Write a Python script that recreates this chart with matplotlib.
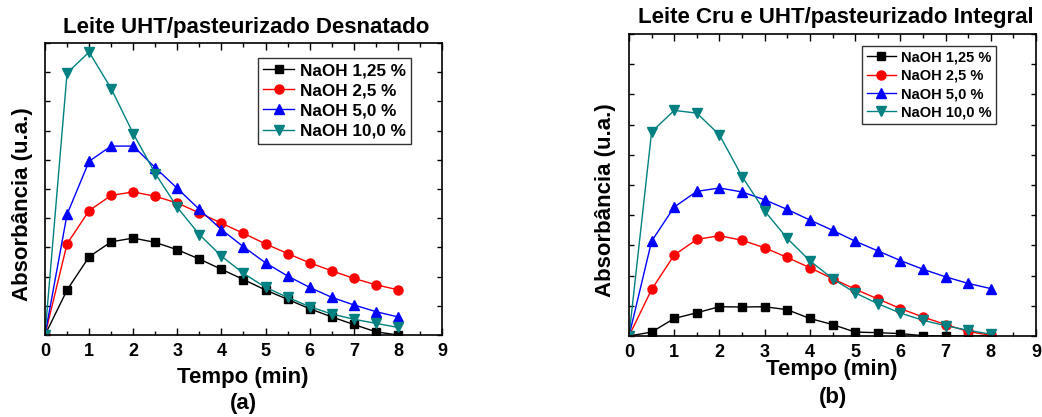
import matplotlib
matplotlib.use("Agg")
import matplotlib.pyplot as plt
from matplotlib.ticker import MultipleLocator

plt.rcParams['font.family'] = ['Liberation Sans', 'DejaVu Sans']
plt.rcParams['font.weight'] = 'bold'

tempo = [0, 0.5, 1, 1.5, 2, 2.5, 3, 3.5, 4, 4.5, 5, 5.5, 6, 6.5, 7, 7.5, 8]

series_labels = ["NaOH 1,25 %", "NaOH 2,5 %", "NaOH 5,0 %", "NaOH 10,0 %"]

# Leite UHT/pasteurizado Desnatado
desnatado_125 = [0, 0.154, 0.268, 0.319, 0.332, 0.317, 0.292, 0.260, 0.225, 0.190, 0.154, 0.122, 0.090, 0.062, 0.036, 0.011, 0.0]
desnatado_25 = [0, 0.312, 0.426, 0.478, 0.490, 0.475, 0.452, 0.418, 0.383, 0.348, 0.312, 0.279, 0.247, 0.220, 0.194, 0.172, 0.155]
desnatado_50 = [0, 0.413, 0.595, 0.647, 0.647, 0.573, 0.502, 0.430, 0.361, 0.302, 0.247, 0.202, 0.163, 0.129, 0.103, 0.080, 0.062]
desnatado_100 = [0, 0.897, 0.969, 0.844, 0.690, 0.553, 0.437, 0.344, 0.270, 0.211, 0.163, 0.129, 0.097, 0.072, 0.054, 0.040, 0.026]

# Leite Cru e UHT/pasteurizado Integral
integral_125 = [0, 0.013, 0.058, 0.077, 0.097, 0.096, 0.097, 0.087, 0.058, 0.038, 0.013, 0.011, 0.008, 0.001, 0.0, 0.0, 0.0]
integral_25 = [0, 0.154, 0.268, 0.320, 0.332, 0.317, 0.292, 0.260, 0.226, 0.190, 0.155, 0.123, 0.091, 0.063, 0.038, 0.015, 0.002]
integral_50 = [0, 0.314, 0.427, 0.479, 0.490, 0.477, 0.451, 0.419, 0.384, 0.350, 0.314, 0.282, 0.250, 0.221, 0.196, 0.174, 0.157]
integral_100 = [0, 0.676, 0.747, 0.738, 0.666, 0.528, 0.414, 0.323, 0.249, 0.190, 0.143, 0.107, 0.076, 0.052, 0.034, 0.019, 0.006]

colors = ["#000000", "#ff0000", "#0000ff", "#008080"]
markers = ["s", "o", "^", "v"]
msizes = [5.5, 6.5, 7, 7]

W, H = 1042, 417
fig = plt.figure(figsize=(W / 100, H / 100), dpi=100)


def px(x, y):
    return x / W, 1 - y / H


ax_a = fig.add_axes([45 / W, 1 - 335 / H, 397 / W, 292 / H])
ax_b = fig.add_axes([629 / W, 1 - 336 / H, 407 / W, 302 / H])


def draw_panel(ax, data, legend_anchor, legend_size, handle_len):
    for vals, lab, c, m, ms in zip(data, series_labels, colors, markers, msizes):
        ax.plot(tempo, vals, color=c, marker=m, markersize=ms, lw=1.0, label=lab)
    ax.set_xlim(0, 9)
    ax.set_ylim(0, 1.0)
    ax.xaxis.set_major_locator(MultipleLocator(1))
    ax.xaxis.set_minor_locator(MultipleLocator(0.5))
    ax.yaxis.set_major_locator(MultipleLocator(0.1))
    ax.tick_params(which='both', direction='in', top=True, right=True, width=1.0)
    ax.tick_params(which='major', length=5, labelsize=13, pad=6)
    ax.tick_params(which='minor', length=3)
    ax.tick_params(axis='y', which='major', length=3.5, labelleft=False)
    for lbl in ax.get_xticklabels():
        lbl.set_fontweight('bold')
    for sp in ax.spines.values():
        sp.set_linewidth(1.2)
    leg = ax.legend(loc='upper right', bbox_to_anchor=legend_anchor,
                    frameon=True, fancybox=False, edgecolor='black',
                    handlelength=handle_len, handletextpad=0.35, borderpad=0.3,
                    labelspacing=0.3, borderaxespad=0.0,
                    prop={'weight': 'bold', 'size': legend_size})
    leg.get_frame().set_linewidth(1.0)


draw_panel(ax_a, [desnatado_125, desnatado_25, desnatado_50, desnatado_100],
           ((411 - 45) / 397, (335 - 58) / 292), 12.3, 1.8)
draw_panel(ax_b, [integral_125, integral_25, integral_50, integral_100],
           ((996 - 629) / 407, (336 - 46) / 302), 10.5, 2.0)

# titles, axis labels and panel letters
fig.text(*px(246, 27), "Leite UHT/pasteurizado Desnatado", ha='center', va='center',
         fontsize=16, fontweight='bold')
fig.text(*px(836, 17), "Leite Cru e UHT/pasteurizado Integral", ha='center', va='center',
         fontsize=16, fontweight='bold')
fig.text(*px(243, 378), "Tempo (min)", ha='center', va='center', fontsize=16, fontweight='bold')
fig.text(*px(832, 370), "Tempo (min)", ha='center', va='center', fontsize=16, fontweight='bold')
fig.text(*px(23, 204), "Absorbância (u.a.)", ha='center', va='center', rotation=90,
         fontsize=16, fontweight='bold')
fig.text(*px(606, 200), "Absorbância (u.a.)", ha='center', va='center', rotation=90,
         fontsize=16, fontweight='bold')
fig.text(*px(243, 404), "(a)", ha='center', va='center', fontsize=16, fontweight='bold')
fig.text(*px(833, 398), "(b)", ha='center', va='center', fontsize=16, fontweight='bold')

fig.savefig("out.png", dpi=100)
